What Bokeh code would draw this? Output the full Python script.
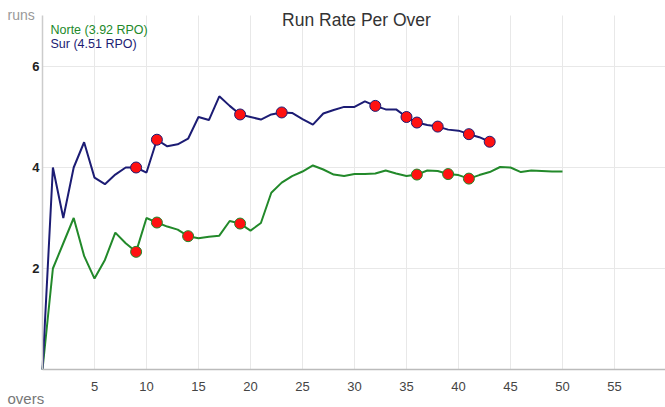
from bokeh.plotting import figure
from bokeh.models import FixedTicker, Label, Range1d
from bokeh.embed import file_html
from bokeh.resources import INLINE

# Data
sur_rpo = [0, 4.0, 3.0, 4.0, 4.5, 3.8, 3.67, 3.86, 4.0, 4.0, 3.9, 4.55, 4.42, 4.46, 4.57,
           5.0, 4.94, 5.41, 5.22, 5.05, 5.0, 4.95, 5.05, 5.09, 5.08, 4.96, 4.85, 5.07,
           5.14, 5.2, 5.2, 5.31, 5.22, 5.15, 5.15, 5.0, 4.89, 4.84, 4.81, 4.75, 4.73,
           4.66, 4.6, 4.51]
norte_rpo = [0, 2.0, 2.5, 3.0, 2.25, 1.8, 2.17, 2.71, 2.5, 2.33, 3.0, 2.91, 2.83, 2.77,
             2.64, 2.6, 2.63, 2.65, 2.94, 2.89, 2.75, 2.9, 3.5, 3.7, 3.83, 3.92, 4.04,
             3.96, 3.86, 3.83, 3.87, 3.87, 3.88, 3.94, 3.88, 3.83, 3.86, 3.94, 3.93,
             3.87, 3.85, 3.78, 3.85, 3.91, 4.01, 4.0, 3.91, 3.94, 3.93, 3.92, 3.92]
sur_overs = list(range(len(sur_rpo)))
norte_overs = list(range(len(norte_rpo)))
sur_wickets = [9, 11, 19, 23, 32, 35, 36, 38, 41, 43]
norte_wickets = [9, 11, 14, 19, 36, 39, 41]
x_ticks = [5, 10, 15, 20, 25, 30, 35, 40, 45, 50, 55]
y_ticks = [2, 4, 6]
title_text = "Run Rate Per Over"
norte_label = "Norte (3.92 RPO)"
sur_label = "Sur (4.51 RPO)"
x_axis_label = "overs"
y_axis_label = "runs"

GREEN = "#22892a"
BLUE = "#1c1c74"
FONT = "Liberation Sans"

W, H = 665, 407
PX_OVER = 10.4
PX_RUN = 50.5
X0, Y0 = 42, 369  # pixel position of the origin

p = figure(width=W, height=H, output_backend="svg", toolbar_location=None,
           x_range=Range1d(-X0 / PX_OVER, (W - X0) / PX_OVER),
           y_range=Range1d(-(H - Y0) / PX_RUN, Y0 / PX_RUN),
           min_border=0)
p.outline_line_color = None

X_MAX = (W - X0) / PX_OVER
Y_MAX = (Y0 - 15) / PX_RUN

p.xaxis.fixed_location = 0
p.yaxis.fixed_location = 0
p.xaxis.bounds = (0, X_MAX)
p.yaxis.bounds = (0, Y_MAX)

p.xaxis.ticker = FixedTicker(ticks=x_ticks)
p.yaxis.ticker = FixedTicker(ticks=y_ticks)
p.xgrid.ticker = FixedTicker(ticks=x_ticks)
p.ygrid.ticker = FixedTicker(ticks=y_ticks)
p.xgrid.cross_bounds = (0, Y_MAX)
p.ygrid.cross_bounds = (0, X_MAX)
p.grid.grid_line_color = "#e8e8e8"
p.grid.grid_line_width = 1

p.line(norte_overs, norte_rpo, line_color=GREEN, line_width=2)
p.line(sur_overs, sur_rpo, line_color=BLUE, line_width=2)
p.scatter(sur_wickets, [sur_rpo[o] for o in sur_wickets], size=11,
          fill_color="#ff1111", line_color=BLUE, line_width=1)
p.scatter(norte_wickets, [norte_rpo[o] for o in norte_wickets], size=11,
          fill_color="#ff1111", line_color=GREEN, line_width=1)

for ax in (p.xaxis, p.yaxis):
    ax.major_tick_line_color = None
    ax.minor_tick_line_color = None
    ax.major_label_text_font = FONT
    ax.major_label_text_font_size = "13px"
p.xaxis.axis_line_color = "#bbbbbb"
p.xaxis.axis_line_width = 1.5
p.yaxis.axis_line_color = "#cccccc"
p.yaxis.axis_line_width = 1.5
p.xaxis.major_label_text_color = "#444444"
p.yaxis.major_label_text_color = "#222222"
p.yaxis.major_label_text_font_style = "bold"
p.xaxis.major_label_standoff = 6
p.yaxis.major_label_standoff = -3

def lab(text, x, y, size, color, align="left", style="normal"):
    p.add_layout(Label(x=x, y=y, x_units="screen", y_units="screen", text=text,
                       text_font=FONT, text_font_size=size, text_color=color,
                       text_align=align, text_baseline="alphabetic", text_font_style=style))

lab(title_text, 356, H - 19, "17.5px", "#333333", align="center")
lab(y_axis_label, 7, H - 14, "14px", "#999999")
lab(x_axis_label, 7, 9, "15px", "#777777")
lab(norte_label, 50, H - 29, "12.5px", GREEN)
lab(sur_label, 50, H - 43, "12.5px", BLUE)

open("out.html", "w").write(file_html(p, INLINE))
